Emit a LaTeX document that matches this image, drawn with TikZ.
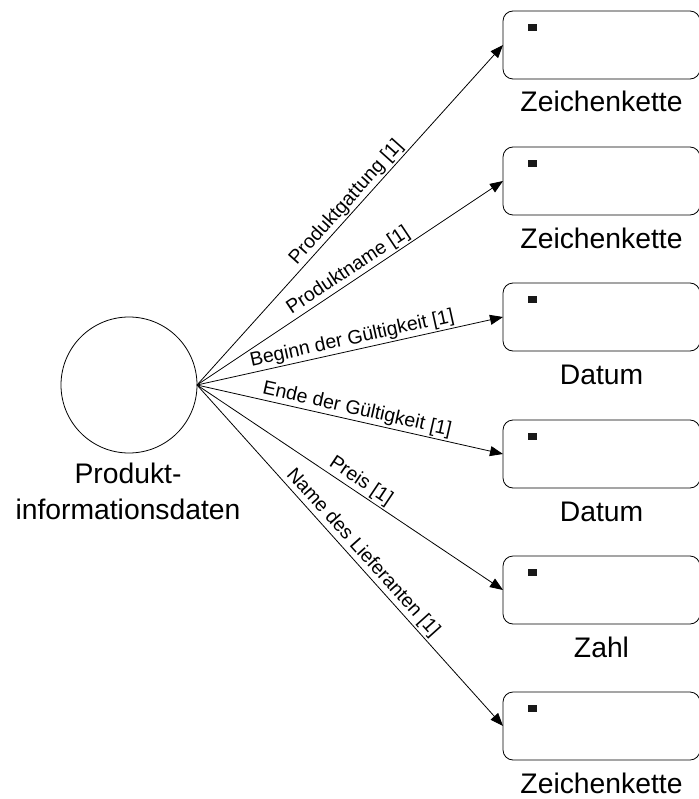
\documentclass[tikz,border=0pt]{standalone}
\usepackage{fontspec}
\setmainfont{Liberation Sans}
\usetikzlibrary{arrows.meta}
\begin{document}
\begin{tikzpicture}[x=1pt,y=-1pt,
  every node/.style={inner sep=0pt, outer sep=0pt},
  entity/.style={draw, line width=0.8pt, circle, minimum size=136pt},
  attrbox/.style={draw, line width=0.8pt, rounded corners=10pt,
    minimum width=197pt, minimum height=68pt, anchor=north west},
  marker/.style={fill=black!90, minimum width=9pt, minimum height=7pt, anchor=north west},
  caption/.style={font=\fontsize{28.3}{34}\selectfont, anchor=base},
  rel/.style={draw, line width=0.8pt, -{Triangle[length=13pt,width=10pt]}},
  rellabel/.style={font=\fontsize{19.5}{23}\selectfont, sloped, above, pos=0.515, inner sep=2pt}
]
\useasboundingbox (0,0) rectangle (698,799);

% entity and its name
\node[entity] (prod) at (129,385) {};
\node[caption] (prodA) at (128,483) {Produkt-};
\node[caption] (prodB) at (128,519) {informationsdaten};

% attribute boxes with their data types
\foreach \i/\ty/\lbl in {1/11/Zeichenkette, 2/147/Zeichenkette, 3/283/Datum,
                         4/420/Datum, 5/556/Zahl, 6/692/Zeichenkette} {
  \node[attrbox] (b\i) at (503,\ty) {};
  \node[marker] (m\i) at ([shift={(25,13)}]b\i.north west) {};
  \node[caption] (c\i) at ([shift={(98.5,33)}]b\i.south west) {\lbl};
}

% attribute relations
\draw[rel] (prod.east) -- node[rellabel] {Produktgattung [1]} (b1.west);
\draw[rel] (prod.east) -- node[rellabel] {Produktname [1]} (b2.west);
\draw[rel] (prod.east) -- node[rellabel] {Beginn der Gültigkeit [1]} (b3.west);
\draw[rel] (prod.east) -- node[rellabel] {Ende der Gültigkeit [1]} (b4.west);
\draw[rel] (prod.east) -- node[rellabel] {Preis [1]} (b5.west);
\draw[rel] (prod.east) -- node[rellabel] {Name des Lieferanten [1]} (b6.west);
\end{tikzpicture}
\end{document}
